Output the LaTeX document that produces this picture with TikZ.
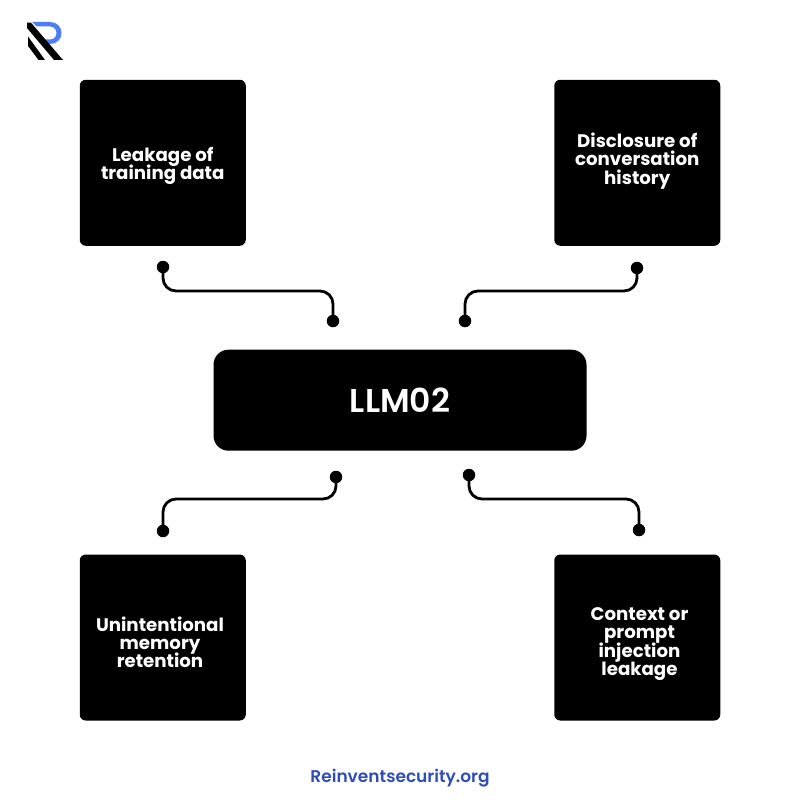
\documentclass[tikz,border=0pt]{standalone}
\usepackage{fontspec}
\setmainfont{Poppins}
\newfontfamily\semifont[UprightFont=* SemiBold]{Poppins}
\newcommand{\tightlines}{\lineskiplimit=-20pt\relax}
\usepackage{tikz}
\usetikzlibrary{positioning}
\definecolor{logoblue}{HTML}{4A7DF7}
\definecolor{footblue}{HTML}{2F4DB8}
\tikzset{
    card/.style={fill=black, rounded corners=6pt, minimum size=166pt, inner sep=0pt},
    cardtext/.style={text=white, align=center, inner sep=0pt, font=\fontsize{18.2}{18.3}\selectfont\bfseries\tightlines},
    hub/.style={fill=black, text=white, rounded corners=15pt, minimum width=373pt, minimum height=101pt, font=\fontsize{33}{36}\semifont},
    pin/.style={circle, fill=black, minimum size=12.5pt, inner sep=0pt},
    wire/.style={draw=black, line width=2.8pt, rounded corners=13pt}
}
\begin{document}
\begin{tikzpicture}[x=1pt, y=-1pt]
    \useasboundingbox (0,0) rectangle (800,800);
    \fill[white] (0,0) rectangle (800,800);
    % logo
    \fill[logoblue] (32,22) -- (50,22) .. controls (57,22) and (61.5,27) .. (61.5,33) .. controls (61.5,39) and (57,44) .. (50,44) -- (44,44) -- (44,39.5) -- (50,39.5) .. controls (54,39.5) and (56.5,36.5) .. (56.5,33) .. controls (56.5,29.5) and (54,26.5) .. (50,26.5) -- (36.5,26.5) -- cycle;
    \fill[black] (27,22.7) -- (31,22.7) -- (63,60) -- (54,60) -- (27,28) -- cycle;
    \fill[black] (28,36.5) -- (45,60) -- (38.5,60) -- (28,46) -- cycle;
    % boxes
    \node[card] (leak) at (162.75,162.75) {};
    \node[card] (chat) at (637.25,162.75) {};
    \node[card] (memory) at (162.75,637.5) {};
    \node[card] (inject) at (637.25,637.5) {};
    \node[hub] (llm) at (400,400.2) {LLM02};
    % texts sit a little off the middle of their box
    \node[cardtext] (leaktext) at (162.75,166.2) {Leakage of\\training data};
    \node[cardtext] (chattext) at (637.25,161) {Disclosure of\\conversation\\history};
    \node[cardtext] (memorytext) at (160,642.2) {Unintentional\\memory\\retention};
    \node[cardtext] (injecttext) at (639.5,644) {Context or\\prompt\\injection\\leakage};
    % pins on the wires
    \node[pin] (leakpin) at (163,267) {};
    \node[pin] (hubpina) at (333,321) {};
    \node[pin] (chatpin) at (637,268) {};
    \node[pin] (hubpinb) at (465,321) {};
    \node[pin] (hubpinc) at (336,477) {};
    \node[pin] (memorypin) at (163,531) {};
    \node[pin] (hubpind) at (469,475) {};
    \node[pin] (injectpin) at (639,530) {};
    \coordinate (benda) at (250,291);
    \coordinate (bendb) at (550,291);
    \coordinate (bendc) at (250,499);
    \coordinate (bendd) at (550,499);
    \draw[wire] (leakpin.center) |- (benda) -| (hubpina.center);
    \draw[wire] (chatpin.center) |- (bendb) -| (hubpinb.center);
    \draw[wire] (hubpinc.center) |- (bendc) -| (memorypin.center);
    \draw[wire] (hubpind.center) |- (bendd) -| (injectpin.center);
    \node[text=footblue, font=\fontsize{17}{20}\semifont] (site) at (400,778.3) {Reinventsecurity.org};
\end{tikzpicture}
\end{document}
